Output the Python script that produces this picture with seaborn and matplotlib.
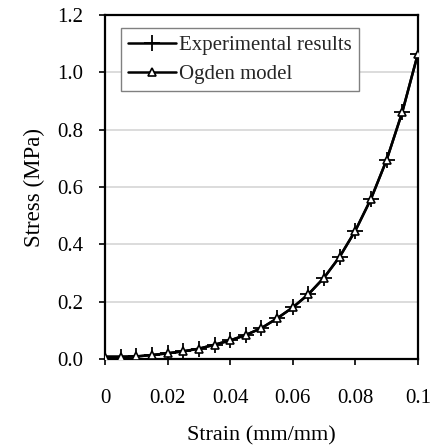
import matplotlib
matplotlib.use("Agg")
import matplotlib.pyplot as plt
import seaborn as sns
import pandas as pd

strain = [0.0, 0.005, 0.01, 0.015, 0.02, 0.025, 0.03, 0.035, 0.04, 0.045, 0.05,
          0.055, 0.06, 0.065, 0.07, 0.075, 0.08, 0.085, 0.09, 0.095, 0.1]
stress_exp = [0.008, 0.008, 0.009, 0.014, 0.020, 0.027, 0.036, 0.050, 0.065, 0.084, 0.108,
              0.142, 0.180, 0.226, 0.284, 0.357, 0.448, 0.559, 0.695, 0.862, 1.066]
stress_ogden = [0.008, 0.008, 0.009, 0.014, 0.020, 0.027, 0.036, 0.050, 0.065, 0.084, 0.108,
                0.142, 0.180, 0.226, 0.284, 0.357, 0.448, 0.559, 0.695, 0.862, 1.066]
xticks = [0, 0.02, 0.04, 0.06, 0.08, 0.1]
xtick_labels = ["0", "0.02", "0.04", "0.06", "0.08", "0.1"]
yticks = [0.0, 0.2, 0.4, 0.6, 0.8, 1.0, 1.2]
ytick_labels = ["0.0", "0.2", "0.4", "0.6", "0.8", "1.0", "1.2"]
series_names = ["Experimental results", "Ogden model"]

sns.set_style("white")
plt.rcParams["font.family"] = ["Liberation Serif", "DejaVu Serif"]

fig = plt.figure(figsize=(4.34, 4.46), dpi=100)
ax = fig.add_axes([0.242, 0.195, 0.721, 0.771])

df_exp = pd.DataFrame({"strain": strain, "stress": stress_exp})
df_og = pd.DataFrame({"strain": strain, "stress": stress_ogden})

sns.lineplot(data=df_exp, x="strain", y="stress", ax=ax, color="black", lw=1.8,
             marker="+", markersize=11, markeredgewidth=1.3, markeredgecolor="black",
             label=series_names[0], zorder=3)
sns.lineplot(data=df_og, x="strain", y="stress", ax=ax, color="black", lw=1.8,
             marker="^", markersize=6, markeredgewidth=1.2, markerfacecolor="white",
             markeredgecolor="black", label=series_names[1], zorder=4)

ax.set_xlim(0, 0.1)
ax.set_ylim(0, 1.2)
ax.set_xticks(xticks)
ax.set_xticklabels(xtick_labels)
ax.set_yticks(yticks)
ax.set_yticklabels(ytick_labels)
ax.yaxis.grid(True, color="#d6d6d6", lw=1.2)
ax.xaxis.grid(False)
ax.set_axisbelow(True)

for s in ax.spines.values():
    s.set_color("black")
    s.set_linewidth(1.6)

ax.tick_params(axis="both", direction="out", length=4.5, width=1.2, color="black",
               labelsize=15, labelcolor="black", bottom=True, left=True)
ax.tick_params(axis="x", pad=17)
ax.tick_params(axis="y", pad=11)

ax.set_xlabel("Strain (mm/mm)", fontsize=16, color="black", labelpad=13)
ax.set_ylabel("Stress (MPa)", fontsize=16.5, color="black", labelpad=9)

leg = ax.legend(loc="upper left", bbox_to_anchor=(0.051, 0.962), frameon=True,
                fancybox=False, framealpha=1, edgecolor="#808080", fontsize=15,
                handlelength=2.3, handletextpad=0.15, borderpad=0.35, labelspacing=0.45,
                borderaxespad=0)
leg.get_frame().set_linewidth(1.0)

fig.savefig("out.png", dpi=100)
